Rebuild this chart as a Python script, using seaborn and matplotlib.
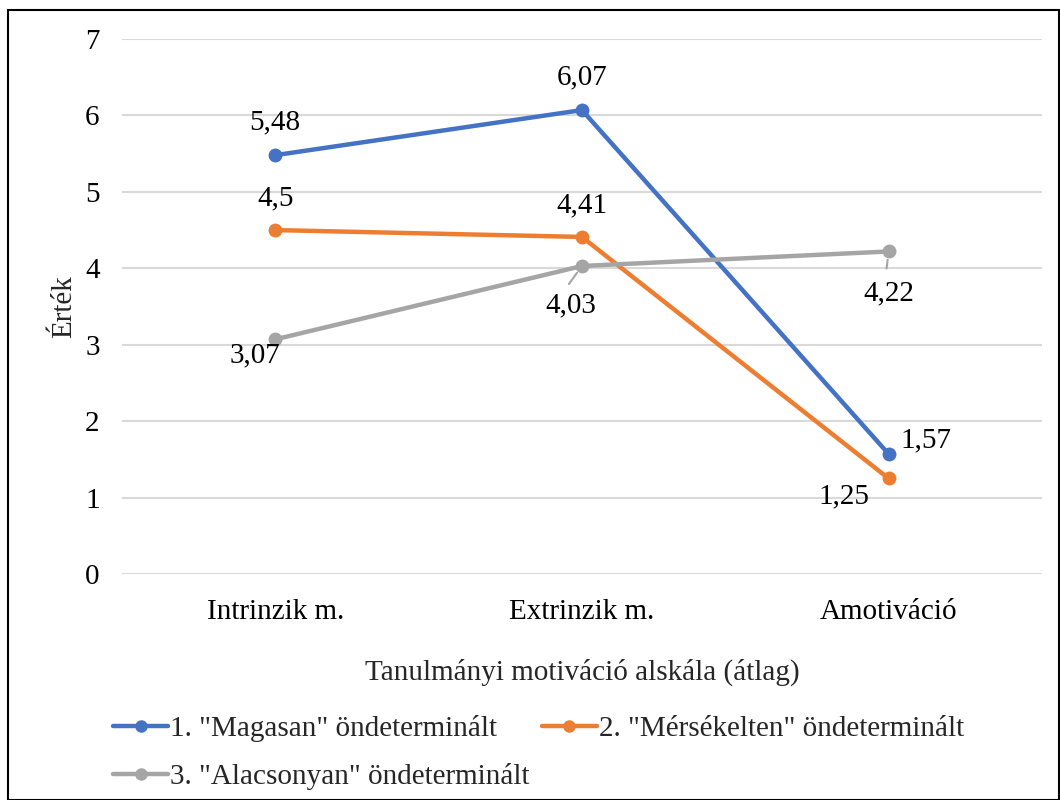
import matplotlib
matplotlib.use("Agg")
import matplotlib.pyplot as plt
from matplotlib.patches import Rectangle
from matplotlib.lines import Line2D
import seaborn as sns
import pandas as pd

categories = ["Intrinzik m.", "Extrinzik m.", "Amotiváció"]
series_names = ['1. "Magasan" öndeterminált',
                '2. "Mérsékelten" öndeterminált',
                '3. "Alacsonyan" öndeterminált']
magasan = [5.48, 6.07, 1.57]
merseklten = [4.5, 4.41, 1.25]
alacsonyan = [3.07, 4.03, 4.22]
colors = ["#4472C4", "#ED7D31", "#A5A5A5"]

sns.set_style("white")
plt.rcParams["font.family"] = ["Liberation Serif", "DejaVu Serif"]

rows = []
for name, vals in zip(series_names, [magasan, merseklten, alacsonyan]):
    for cat, v in zip(categories, vals):
        rows.append({"cat": cat, "val": v, "series": name})
df = pd.DataFrame(rows)

fig = plt.figure(figsize=(10.6, 8.0), dpi=100)
ax = fig.add_axes([0.115, 0.2825, 0.868, 0.66875])

sns.lineplot(data=df, x="cat", y="val", hue="series", style="series",
             palette=colors, markers=["o", "o", "o"], dashes=False,
             linewidth=3.2, markersize=10, markeredgewidth=0,
             sort=False, ax=ax, legend=False)

ax.set_xlim(-0.5, 2.5)
ax.set_ylim(0, 7)
ax.set_yticks(range(0, 8))
ax.grid(axis="y", color="#D9D9D9", linewidth=1.5)
ax.set_axisbelow(True)
for s in ax.spines.values():
    s.set_visible(False)
ax.tick_params(axis="both", length=0, labelsize=21, colors="black")
ax.tick_params(axis="x", pad=18)
ax.tick_params(axis="y", pad=16)
ax.set_xlabel("Tanulmányi motiváció alskála (átlag)", fontsize=21, labelpad=24)
ax.set_ylabel("Érték", fontsize=21, labelpad=6)

# value labels: (dx, dy) in pixels
label_offsets = [
    [(0, 33), (0, 33), (37, 14)],
    [(0, 32), (0, 32), (-45, -18)],
    [(-20, -16), (-11, -39), (0, -42)],
]
for vals, offs in zip([magasan, merseklten, alacsonyan], label_offsets):
    for i, (v, (dx, dy)) in enumerate(zip(vals, offs)):
        ax.annotate(f"{v:g}".replace(".", ","), (i, v), xytext=(dx, dy),
                    textcoords="offset pixels", ha="center", va="center",
                    fontsize=21, color="black")

# leader lines for gray labels
ax.annotate("", (1, alacsonyan[1]), xytext=(-13, -18), textcoords="offset pixels",
            arrowprops=dict(arrowstyle="-", color="#A5A5A5", lw=1.5,
                            shrinkA=0, shrinkB=6))
ax.annotate("", (2, alacsonyan[2]), xytext=(-2, -17), textcoords="offset pixels",
            arrowprops=dict(arrowstyle="-", color="#A5A5A5", lw=1.5,
                            shrinkA=0, shrinkB=6))

handles = [Line2D([], [], color=c, lw=3.2, marker="o", markersize=9,
                  markeredgewidth=0) for c in colors]
# two-column legend filled column-wise: first column holds series 1 and 3
order = [0, 2, 1]
fig.legend([handles[i] for i in order], [series_names[i] for i in order],
           loc="upper left", bbox_to_anchor=(0.1066, 0.106),
           ncol=2, frameon=False, fontsize=21, handlelength=1.9,
           handletextpad=0.07, columnspacing=0.4, labelspacing=0.72,
           borderaxespad=0, borderpad=0)

fig.patches.append(Rectangle((8 / 1060, 0), 1 - 8 / 1060 - 0.001, 1 - 10 / 800,
                             transform=fig.transFigure, fill=False,
                             edgecolor="black", linewidth=1.5))

fig.savefig("out.png", dpi=100)
